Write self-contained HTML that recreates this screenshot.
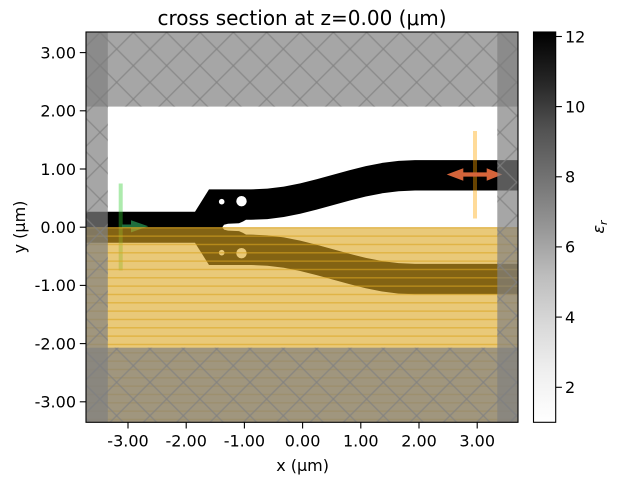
<!DOCTYPE html>
<html>
<head>
<meta charset="utf-8">
<style>
html,body{margin:0;padding:0;background:#fff;}
svg{display:block;}
text{font-family:"DejaVu Sans","Liberation Sans",sans-serif;fill:#000;}
</style>
</head>
<body>
<svg width="619" height="483" viewBox="0 0 619 483" xmlns="http://www.w3.org/2000/svg">
<defs>
  <clipPath id="ax"><rect x="86" y="32" width="432" height="390.3"/></clipPath>
  <pattern id="xh" patternUnits="userSpaceOnUse" width="33.333" height="33.333" patternTransform="translate(0,-1)">
    <g stroke="#808080" stroke-opacity="0.7" stroke-width="1.4" fill="none">
      <path d="M-5,-5 L38.333,38.333 M28.333,-5 L38.333,5 M-5,28.333 L5,38.333"/>
      <path d="M38.333,-5 L-5,38.333 M5,-5 L-5,5 M38.333,28.333 L28.333,38.333"/>
    </g>
  </pattern>
  <pattern id="hz" patternUnits="userSpaceOnUse" x="0" y="227.1" width="10" height="8.3333">
    <rect x="0" y="0" width="10" height="1.4" fill="#daa520" fill-opacity="0.6"/>
  </pattern>
  <linearGradient id="greys" x1="0" y1="1" x2="0" y2="0">
    <stop offset="0" stop-color="#ffffff"/>
    <stop offset="0.125" stop-color="#f0f0f0"/>
    <stop offset="0.25" stop-color="#d9d9d9"/>
    <stop offset="0.375" stop-color="#bdbdbd"/>
    <stop offset="0.5" stop-color="#969696"/>
    <stop offset="0.625" stop-color="#737373"/>
    <stop offset="0.75" stop-color="#525252"/>
    <stop offset="0.875" stop-color="#252525"/>
    <stop offset="1" stop-color="#000000"/>
  </linearGradient>
</defs>

<!-- title -->
<text x="302" y="25" font-size="20" text-anchor="middle">cross section at z=0.00 (μm)</text>

<g clip-path="url(#ax)">
  <rect x="86" y="32" width="432" height="390.3" fill="#ffffff"/>
  <!-- structure (symmetric) -->
  <g>
    <path fill="#000" d="M80,211.7 L195,211.7 L209,189.4 L251,189.4 L267.4,188.68 L283.8,186.6 L300.2,183.36 L316.6,179.28 L333,174.75 L349.4,170.22 L365.8,166.14 L382.2,162.9 L398.6,160.82 L415,160.1 L525,160.1 L525,190.5 L415,190.5 L398.6,191.22 L382.2,193.3 L365.8,196.54 L349.4,200.62 L333,205.15 L316.6,209.68 L300.2,213.76 L283.8,217.0 L267.4,219.08 L251,219.8 L246,219.8 L243,221.5 L239,223.3 L228,223.8 L224,224.8 L222,227.8 L80,227.8 Z"/>
    <circle cx="221.7" cy="201.7" r="2.8" fill="#fff"/>
    <circle cx="241.5" cy="201.2" r="5.2" fill="#fff"/>
  </g>
  <g transform="translate(0,454.4) scale(1,-1)">
    <path fill="#000" d="M80,211.7 L195,211.7 L209,189.4 L251,189.4 L267.4,188.68 L283.8,186.6 L300.2,183.36 L316.6,179.28 L333,174.75 L349.4,170.22 L365.8,166.14 L382.2,162.9 L398.6,160.82 L415,160.1 L525,160.1 L525,190.5 L415,190.5 L398.6,191.22 L382.2,193.3 L365.8,196.54 L349.4,200.62 L333,205.15 L316.6,209.68 L300.2,213.76 L283.8,217.0 L267.4,219.08 L251,219.8 L246,219.8 L243,221.5 L239,223.3 L228,223.8 L224,224.8 L222,227.8 L80,227.8 Z"/>
    <circle cx="221.7" cy="201.7" r="2.8" fill="#fff"/>
    <circle cx="241.5" cy="201.2" r="5.2" fill="#fff"/>
  </g>

  <!-- source -->
  <rect x="118.7" y="183.5" width="4" height="87" fill="#32cd32" fill-opacity="0.4"/>
  <path d="M122,224.5 L131,224.5 L131,220.2 L148.3,226.3 L131,232.4 L131,228 L122,228 Z" fill="#1d6e3e"/>

  <!-- monitor -->
  <rect x="473" y="131" width="4" height="87.5" fill="#ffa500" fill-opacity="0.4"/>
  <path d="M446.7,174.5 L463.3,168.3 L463.3,172.4 L486.7,172.4 L486.7,168.3 L502.3,174.5 L486.7,180.7 L486.7,176.6 L463.3,176.6 L463.3,180.7 Z" fill="#d5643a"/>

  <!-- symmetry overlay -->
  <rect x="86" y="227.2" width="432" height="196" fill="#daa520" fill-opacity="0.6"/>
  <rect x="86" y="227.2" width="432" height="196" fill="url(#hz)"/>

  <!-- PML -->
  <g>
    <rect x="86" y="32" width="432" height="74.6" fill="#808080" fill-opacity="0.7"/>
    <rect x="86" y="32" width="432" height="74.6" fill="url(#xh)"/>
    <rect x="86" y="347.7" width="432" height="75" fill="#808080" fill-opacity="0.7"/>
    <rect x="86" y="347.7" width="432" height="75" fill="url(#xh)"/>
    <rect x="86" y="32" width="21.8" height="391" fill="#808080" fill-opacity="0.7"/>
    <rect x="86" y="32" width="21.8" height="391" fill="url(#xh)"/>
    <rect x="497.3" y="32" width="21" height="391" fill="#808080" fill-opacity="0.7"/>
    <rect x="497.3" y="32" width="21" height="391" fill="url(#xh)"/>
  </g>
</g>

<!-- axes frame -->
<rect x="86" y="32" width="432" height="390.3" fill="none" stroke="#000" stroke-width="1.1"/>

<!-- x ticks -->
<g stroke="#000" stroke-width="1.1">
  <line x1="128" y1="422.3" x2="128" y2="428.5"/>
  <line x1="186.2" y1="422.3" x2="186.2" y2="428.5"/>
  <line x1="244.4" y1="422.3" x2="244.4" y2="428.5"/>
  <line x1="302.6" y1="422.3" x2="302.6" y2="428.5"/>
  <line x1="360.8" y1="422.3" x2="360.8" y2="428.5"/>
  <line x1="419" y1="422.3" x2="419" y2="428.5"/>
  <line x1="477.2" y1="422.3" x2="477.2" y2="428.5"/>
</g>
<g font-size="16" text-anchor="middle">
  <text x="128" y="446.5">-3.00</text>
  <text x="186.2" y="446.5">-2.00</text>
  <text x="244.4" y="446.5">-1.00</text>
  <text x="302.6" y="446.5">0.00</text>
  <text x="360.8" y="446.5">1.00</text>
  <text x="419" y="446.5">2.00</text>
  <text x="477.2" y="446.5">3.00</text>
</g>
<text x="302.6" y="471" font-size="16" text-anchor="middle">x (μm)</text>

<!-- y ticks -->
<g stroke="#000" stroke-width="1.1">
  <line x1="79.8" y1="52.6" x2="86" y2="52.6"/>
  <line x1="79.8" y1="110.8" x2="86" y2="110.8"/>
  <line x1="79.8" y1="169" x2="86" y2="169"/>
  <line x1="79.8" y1="227.2" x2="86" y2="227.2"/>
  <line x1="79.8" y1="285.4" x2="86" y2="285.4"/>
  <line x1="79.8" y1="343.6" x2="86" y2="343.6"/>
  <line x1="79.8" y1="401.8" x2="86" y2="401.8"/>
</g>
<g font-size="16" text-anchor="end">
  <text x="76" y="58.4">3.00</text>
  <text x="76" y="116.6">2.00</text>
  <text x="76" y="174.8">1.00</text>
  <text x="76" y="233">0.00</text>
  <text x="76" y="291.2">-1.00</text>
  <text x="76" y="349.4">-2.00</text>
  <text x="76" y="407.6">-3.00</text>
</g>
<text transform="translate(25,227) rotate(-90)" font-size="16" text-anchor="middle">y (μm)</text>

<!-- colorbar -->
<rect x="533.5" y="32" width="22.2" height="390.3" fill="url(#greys)"/>
<rect x="533.5" y="32" width="22.2" height="390.3" fill="none" stroke="#000" stroke-width="1.1"/>
<g stroke="#000" stroke-width="1.1">
  <line x1="555.7" y1="36.5" x2="561.9" y2="36.5"/>
  <line x1="555.7" y1="106.6" x2="561.9" y2="106.6"/>
  <line x1="555.7" y1="176.8" x2="561.9" y2="176.8"/>
  <line x1="555.7" y1="246.9" x2="561.9" y2="246.9"/>
  <line x1="555.7" y1="317.1" x2="561.9" y2="317.1"/>
  <line x1="555.7" y1="387.3" x2="561.9" y2="387.3"/>
</g>
<g font-size="16" text-anchor="start">
  <text x="565" y="42.3">12</text>
  <text x="565" y="112.4">10</text>
  <text x="565" y="182.6">8</text>
  <text x="565" y="252.7">6</text>
  <text x="565" y="322.9">4</text>
  <text x="565" y="393.1">2</text>
</g>
<text transform="translate(604,227) rotate(-90)" font-size="16" text-anchor="middle"><tspan font-style="italic">ε</tspan><tspan font-style="italic" font-size="11" dy="3">r</tspan></text>
</svg>
</body>
</html>
